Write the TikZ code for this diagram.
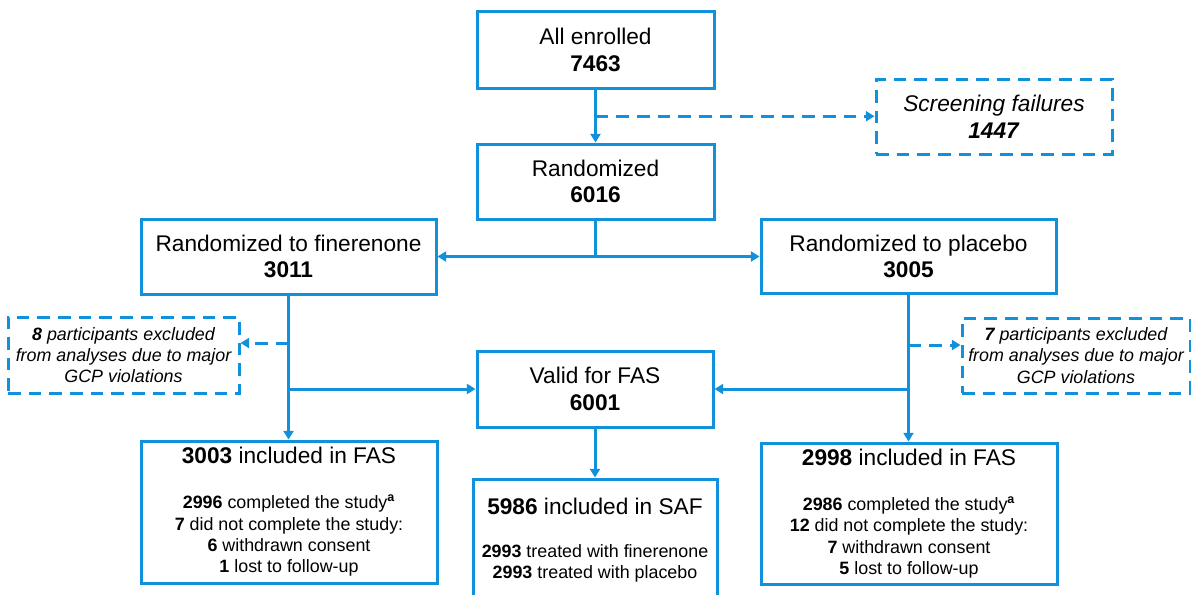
\documentclass[tikz,border=0pt]{standalone}
\usepackage{fontspec}
\setmainfont{Liberation Sans}
\usetikzlibrary{arrows.meta,calc}
\definecolor{cblue}{RGB}{17,145,220}
\newcommand{\pxu}{0.75pt}
\newcommand{\bigf}{\fontsize{17}{20}\selectfont}
\newcommand{\smf}{\fontsize{13.4}{16}\selectfont}
\begin{document}
\begin{tikzpicture}[x=0.75pt,y=-0.75pt,
  box/.style={draw=cblue,line width=2.25pt,align=center,inner sep=0pt,font=\bigf,text=black,fill=white},
  dbox/.style={box,dash pattern=on 9.5pt off 6pt},
  conn/.style={draw=cblue,line width=2.25pt,-{Triangle[length=6.5pt,width=7.5pt]}},
  dconn/.style={conn,dash pattern=on 9.5pt off 6pt},
  wire/.style={draw=cblue,line width=2.25pt}]
\useasboundingbox (0,0) rectangle (1191,594);
\clip (0,0) rectangle (1191,594);
\fill[white] (0,0) rectangle (1191,594);

\node[box,minimum width=237*\pxu,minimum height=77*\pxu] (enr) at (595.5,50) {All enrolled\\\textbf{7463}};
\node[dbox,minimum width=236*\pxu,minimum height=75*\pxu] (scr) at (994,116.5) {\textit{Screening failures}\\\textbf{\textit{1447}}};
\node[box,minimum width=237*\pxu,minimum height=75*\pxu] (rnd) at (595.5,181.5) {Randomized\\\textbf{6016}};
\node[box,minimum width=295*\pxu,minimum height=75*\pxu] (fin) at (288.5,256.5) {Randomized to finerenone\\\textbf{3011}};
\node[box,minimum width=295*\pxu,minimum height=74*\pxu] (plc) at (908.5,256.5) {Randomized to placebo\\\textbf{3005}};
\node[dbox,font=\smf\itshape,minimum width=231*\pxu,minimum height=76*\pxu] (exL) at (123.5,355) {\textbf{8} participants excluded\\from analyses due to major\\GCP violations};
\node[dbox,font=\smf\itshape,minimum width=228*\pxu,minimum height=75*\pxu] (exR) at (1076,355.5) {\textbf{7} participants excluded\\from analyses due to major\\GCP violations};
\node[box,minimum width=236*\pxu,minimum height=76*\pxu] (val) at (595,389) {Valid for FAS\\\textbf{6001}};
\node[box,font=\smf,minimum width=296*\pxu,minimum height=142*\pxu] (fasL) at (289,512)
  {{\bigf\textbf{3003} included in FAS}\\[17.75pt]
   \textbf{2996} completed the study\textsuperscript{\textbf{a}}\\
   \textbf{7} did not complete the study:\\
   \textbf{6} withdrawn consent\\
   \textbf{1} lost to follow-up};
\node[box,font=\smf,minimum width=296*\pxu,minimum height=141*\pxu] (fasR) at (909,513.5)
  {{\bigf\textbf{2998} included in FAS}\\[17.75pt]
   \textbf{2986} completed the study\textsuperscript{\textbf{a}}\\
   \textbf{12} did not complete the study:\\
   \textbf{7} withdrawn consent\\
   \textbf{5} lost to follow-up};
\node[box,font=\smf,minimum width=244*\pxu,minimum height=122*\pxu] (saf) at (595,540)
  {{\bigf\textbf{5986} included in SAF}\\[16.5pt]
   \textbf{2993} treated with finerenone\\
   \textbf{2993} treated with placebo};

% connectors
\draw[conn] (enr) -- (rnd);
\coordinate (sj) at ($(enr.south)!0.5!(rnd.north)$);
\draw[dconn] (sj) -- (sj -| scr.west);
\coordinate (rj) at (rnd.south |- fin.east);
\draw[wire] (rnd.south) -- (rj);
\draw[conn] (rj) -- (fin.east);
\draw[conn] (rj) -- (plc.west);

\draw[conn] (fin.south) -- (fin.south |- fasL.north);
\coordinate (ld) at (288.5,343);
\draw[dconn] (ld) -- (ld -| exL.east);
\coordinate (lv) at (288.5,389);
\draw[conn] (lv) -- (lv -| val.west);

\draw[conn] (plc.south) -- (plc.south |- fasR.north);
\coordinate (rd) at (908.5,345);
\draw[dconn] (rd) -- (rd -| exR.west);
\coordinate (rv) at (908.5,389);
\draw[conn] (rv) -- (rv -| val.east);

\draw[conn] (val) -- (saf);
\end{tikzpicture}
\end{document}
